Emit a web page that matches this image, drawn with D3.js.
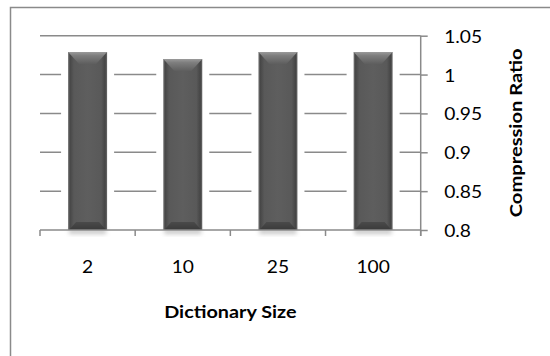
<!DOCTYPE html>
<html>
<head>
<meta charset="utf-8">
<script src="https://cdn.jsdelivr.net/npm/d3@7"></script>
<style>
  html, body { margin: 0; padding: 0; background: #fff; }
  svg { display: block; }
  text { font-family: Lato, "Open Sans", sans-serif; fill: #000; }
</style>
</head>
<body>
<svg id="chart" width="550" height="356"></svg>
<script>
// Compression ratio by dictionary size
const categories = ["2", "10", "25", "100"];
const ratios = [1.029, 1.02, 1.029, 1.029];
const yTicks = [0.8, 0.85, 0.9, 0.95, 1, 1.05];
const xTitle = "Dictionary Size";
const yTitle = "Compression Ratio";

const W = 550, H = 356;
const plot = { left: 40, right: 420.7, top: 35.7, bottom: 230 };
const lineColor = "#8a8a8a";
const labelSize = 17, titleSize = 16.5;
const stretch = 1.13;   // the labels are set slightly wide

const svg = d3.select("#chart");

// chart frame (left and top edges only are visible)
svg.append("path")
  .attr("d", `M10.5,${H} L10.5,7.5 L${W},7.5`)
  .attr("fill", "none").attr("stroke", lineColor).attr("stroke-width", 1.5);

const x = d3.scaleBand()
  .domain(categories)
  .range([plot.left, plot.right])
  .paddingInner(0.59)
  .paddingOuter(0.295);

const y = d3.scaleLinear()
  .domain([yTicks[0], yTicks[yTicks.length - 1]])
  .range([plot.bottom, plot.top]);

const defs = svg.append("defs");

// bar body: darker at the edges, a touch lighter inside
const bodyGrad = defs.append("linearGradient").attr("id", "body").attr("x1", 0).attr("x2", 1).attr("y1", 0).attr("y2", 0);
[[0, "#777"], [0.05, "#474747"], [0.15, "#595959"], [0.5, "#5e5e5e"], [0.85, "#595959"], [0.95, "#454545"], [1, "#6a6a6a"]]
  .forEach(([o, c]) => bodyGrad.append("stop").attr("offset", o).attr("stop-color", c));

const topGrad = defs.append("linearGradient").attr("id", "bevelTop").attr("x1", 0).attr("x2", 0).attr("y1", 0).attr("y2", 1);
[[0, "#9a9a9a"], [0.3, "#7e7e7e"], [1, "#5e5e5e"]]
  .forEach(([o, c]) => topGrad.append("stop").attr("offset", o).attr("stop-color", c));

const botGrad = defs.append("linearGradient").attr("id", "bevelBot").attr("x1", 0).attr("x2", 0).attr("y1", 0).attr("y2", 1);
[[0, "#4a4a4a"], [1, "#3a3a3a"]]
  .forEach(([o, c]) => botGrad.append("stop").attr("offset", o).attr("stop-color", c));

const blur = defs.append("filter").attr("id", "soft").attr("x", "-50%").attr("y", "-50%").attr("width", "200%").attr("height", "200%");
blur.append("feGaussianBlur").attr("stdDeviation", 2);

// horizontal gridlines
svg.append("g").selectAll("line")
  .data(yTicks.filter(v => v !== yTicks[0]))
  .join("line")
  .attr("x1", plot.left).attr("x2", plot.right)
  .attr("y1", d => y(d)).attr("y2", d => y(d))
  .attr("stroke", lineColor).attr("stroke-width", 1.5);

// white glow around each bar
svg.append("g").selectAll("rect")
  .data(ratios)
  .join("rect")
  .attr("x", (d, i) => x(categories[i]) - 7)
  .attr("y", d => y(d) - 6)
  .attr("width", x.bandwidth() + 14)
  .attr("height", d => plot.bottom - y(d) + 6)
  .attr("fill", "#fff");

// soft shadow under each bar
svg.append("g").selectAll("rect")
  .data(ratios)
  .join("rect")
  .attr("x", (d, i) => x(categories[i]) + 1)
  .attr("y", plot.bottom - 1)
  .attr("width", x.bandwidth() - 2)
  .attr("height", 5)
  .attr("fill", "#c8c8c8")
  .attr("filter", "url(#soft)");

// bars
const bars = svg.append("g").selectAll("g")
  .data(ratios)
  .join("g");

const bevelT = 12, bevelB = 8;
bars.append("rect")
  .attr("x", (d, i) => x(categories[i]))
  .attr("y", d => y(d))
  .attr("width", x.bandwidth())
  .attr("height", d => plot.bottom - y(d))
  .attr("fill", "url(#body)");

bars.append("path")
  .attr("d", (d, i) => {
    const x0 = x(categories[i]), x1 = x0 + x.bandwidth(), t = y(d);
    return `M${x0},${t} L${x1},${t} L${x1 - 11},${t + bevelT} L${x0 + 11},${t + bevelT} Z`;
  })
  .attr("fill", "url(#bevelTop)");

bars.append("path")
  .attr("d", (d, i) => {
    const x0 = x(categories[i]), x1 = x0 + x.bandwidth(), b = plot.bottom;
    return `M${x0 + 1},${b} L${x1 - 1},${b} L${x1 - 8},${b - bevelB} L${x0 + 8},${b - bevelB} Z`;
  })
  .attr("fill", "url(#bevelBot)");

// bottom category axis with ticks at band boundaries
const xAxis = svg.append("g");
xAxis.append("line")
  .attr("x1", plot.left).attr("x2", plot.right)
  .attr("y1", plot.bottom).attr("y2", plot.bottom)
  .attr("stroke", lineColor).attr("stroke-width", 1.5);
const bounds = d3.range(categories.length + 1).map(i => plot.left + i * x.step());
xAxis.selectAll("line.tick")
  .data(bounds)
  .join("line").attr("class", "tick")
  .attr("x1", d => d).attr("x2", d => d)
  .attr("y1", plot.bottom).attr("y2", plot.bottom + 6)
  .attr("stroke", lineColor).attr("stroke-width", 1.5);
xAxis.selectAll("text")
  .data(categories)
  .join("text")
  .attr("transform", d => `translate(${x(d) + x.bandwidth() / 2},273) scale(${stretch},1)`)
  .attr("text-anchor", "middle")
  .attr("font-size", labelSize)
  .text(d => d);

// right value axis
const yAxis = d3.axisRight(y)
  .tickValues(yTicks)
  .tickSize(7)
  .tickFormat(d => String(d));
const yG = svg.append("g")
  .attr("transform", `translate(${plot.right},0)`)
  .call(yAxis);
yG.select(".domain").remove();
yG.append("line")
  .attr("x1", 0).attr("x2", 0)
  .attr("y1", plot.top).attr("y2", plot.bottom + 6)
  .attr("stroke", lineColor).attr("stroke-width", 1.5);
yG.selectAll(".tick line").attr("stroke", lineColor).attr("stroke-width", 1.5);
yG.selectAll(".tick text")
  .attr("x", 0)
  .attr("transform", `translate(23.5,0) scale(${stretch},1)`)
  .attr("dy", "0.38em")
  .attr("font-size", labelSize)
  .attr("font-family", "Lato, 'Open Sans', sans-serif")
  .attr("fill", "#000")
  .attr("text-anchor", "start");

// axis titles
svg.append("text")
  .attr("transform", `translate(${(plot.left + plot.right) / 2},318) scale(1.2,1)`)
  .attr("text-anchor", "middle")
  .attr("font-size", titleSize)
  .attr("font-weight", "bold")
  .text(xTitle);

svg.append("text")
  .attr("transform", `translate(522,${(plot.top + plot.bottom) / 2}) rotate(-90) scale(1.22,1)`)
  .attr("text-anchor", "middle")
  .attr("font-size", titleSize)
  .attr("font-weight", "bold")
  .text(yTitle);
</script>
</body>
</html>
